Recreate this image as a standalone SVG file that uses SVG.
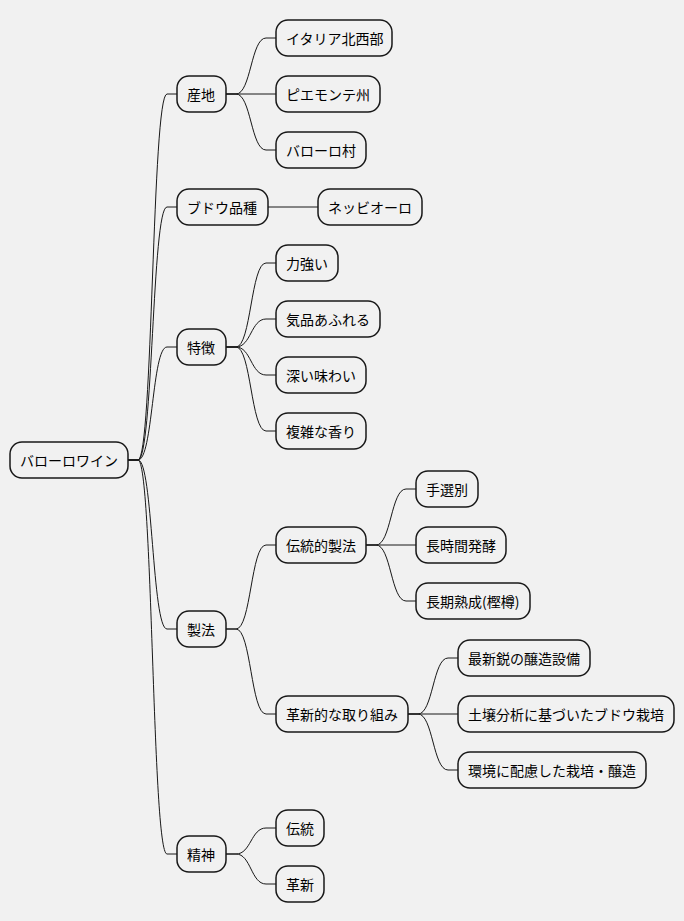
<svg xmlns="http://www.w3.org/2000/svg" width="684" height="921" viewBox="0 0 684 921">
<style>
rect{fill:#F1F1F1;stroke:#181818;stroke-width:1.5}
text{font-family:"Noto Sans CJK JP","Noto Sans",sans-serif;font-size:14px;fill:#000;dominant-baseline:central}
#c path{fill:none;stroke:#181818;stroke-width:1}
</style>
<rect width="684" height="921" fill="#fff" style="stroke:none"/>
<g id="c">
<path d="M128,460 L138,460 C153,460 152,94 167,94 L177,94"/>
<path d="M128,460 L138,460 C153,460 152,207 167,207 L177,207"/>
<path d="M128,460 L138,460 C153,460 152,347 167,347 L177,347"/>
<path d="M128,460 L138,460 C153,460 152,629 167,629 L177,629"/>
<path d="M128,460 L138,460 C153,460 152,854 167,854 L177,854"/>
<path d="M226,94 L236,94 C251,94 251,38 266,38 L276,38"/>
<path d="M226,94 L276,94"/>
<path d="M226,94 L236,94 C251,94 251,150 266,150 L276,150"/>
<path d="M268,207 L318,207"/>
<path d="M226,347 L236,347 C251,347 251,263 266,263 L276,263"/>
<path d="M226,347 L236,347 C251,347 251,319 266,319 L276,319"/>
<path d="M226,347 L236,347 C251,347 251,375 266,375 L276,375"/>
<path d="M226,347 L236,347 C251,347 251,431 266,431 L276,431"/>
<path d="M226,629 L236,629 C251,629 251,545 266,545 L276,545"/>
<path d="M226,629 L236,629 C251,629 251,714 266,714 L276,714"/>
<path d="M366,545 L376,545 C391,545 391,489 406,489 L416,489"/>
<path d="M366,545 L416,545"/>
<path d="M366,545 L376,545 C391,545 391,601 406,601 L416,601"/>
<path d="M408,714 L418,714 C433,714 433,658 448,658 L458,658"/>
<path d="M408,714 L458,714"/>
<path d="M408,714 L418,714 C433,714 433,770 448,770 L458,770"/>
<path d="M226,854 L236,854 C251,854 251,828 266,828 L276,828"/>
<path d="M226,854 L236,854 C251,854 251,884 266,884 L276,884"/>
</g>
<g id="n0"><rect x="10" y="442" width="118" height="36" rx="12"/><text x="20" y="460">バローロワイン</text></g>
<g id="n1"><rect x="177" y="76" width="49" height="36" rx="12"/><text x="187" y="94">産地</text></g>
<g id="n2"><rect x="177" y="189" width="91" height="36" rx="12"/><text x="187" y="207">ブドウ品種</text></g>
<g id="n3"><rect x="177" y="329" width="49" height="36" rx="12"/><text x="187" y="347">特徴</text></g>
<g id="n4"><rect x="177" y="611" width="49" height="36" rx="12"/><text x="187" y="629">製法</text></g>
<g id="n5"><rect x="177" y="836" width="49" height="36" rx="12"/><text x="187" y="854">精神</text></g>
<g id="n6"><rect x="276" y="20" width="116" height="36" rx="12"/><text x="286" y="38">イタリア北西部</text></g>
<g id="n7"><rect x="276" y="76" width="104" height="36" rx="12"/><text x="286" y="94">ピエモンテ州</text></g>
<g id="n8"><rect x="276" y="132" width="90" height="36" rx="12"/><text x="286" y="150">バローロ村</text></g>
<g id="n9"><rect x="318" y="189" width="104" height="36" rx="12"/><text x="328" y="207">ネッビオーロ</text></g>
<g id="n10"><rect x="276" y="245" width="62" height="36" rx="12"/><text x="286" y="263">力強い</text></g>
<g id="n11"><rect x="276" y="301" width="104" height="36" rx="12"/><text x="286" y="319">気品あふれる</text></g>
<g id="n12"><rect x="276" y="357" width="90" height="36" rx="12"/><text x="286" y="375">深い味わい</text></g>
<g id="n13"><rect x="276" y="413" width="90" height="36" rx="12"/><text x="286" y="431">複雑な香り</text></g>
<g id="n14"><rect x="276" y="527" width="90" height="36" rx="12"/><text x="286" y="545">伝統的製法</text></g>
<g id="n15"><rect x="276" y="696" width="132" height="36" rx="12"/><text x="286" y="714">革新的な取り組み</text></g>
<g id="n16"><rect x="416" y="471" width="62" height="36" rx="12"/><text x="426" y="489">手選別</text></g>
<g id="n17"><rect x="416" y="527" width="90" height="36" rx="12"/><text x="426" y="545">長時間発酵</text></g>
<g id="n18"><rect x="416" y="583" width="114" height="36" rx="12"/><text x="426" y="601">長期熟成(樫樽)</text></g>
<g id="n19"><rect x="458" y="640" width="132" height="36" rx="12"/><text x="468" y="658">最新鋭の醸造設備</text></g>
<g id="n20"><rect x="458" y="696" width="216" height="36" rx="12"/><text x="468" y="714">土壌分析に基づいたブドウ栽培</text></g>
<g id="n21"><rect x="458" y="752" width="188" height="36" rx="12"/><text x="468" y="770">環境に配慮した栽培・醸造</text></g>
<g id="n22"><rect x="276" y="810" width="48" height="36" rx="12"/><text x="286" y="828">伝統</text></g>
<g id="n23"><rect x="276" y="866" width="48" height="36" rx="12"/><text x="286" y="884">革新</text></g>
</svg>
